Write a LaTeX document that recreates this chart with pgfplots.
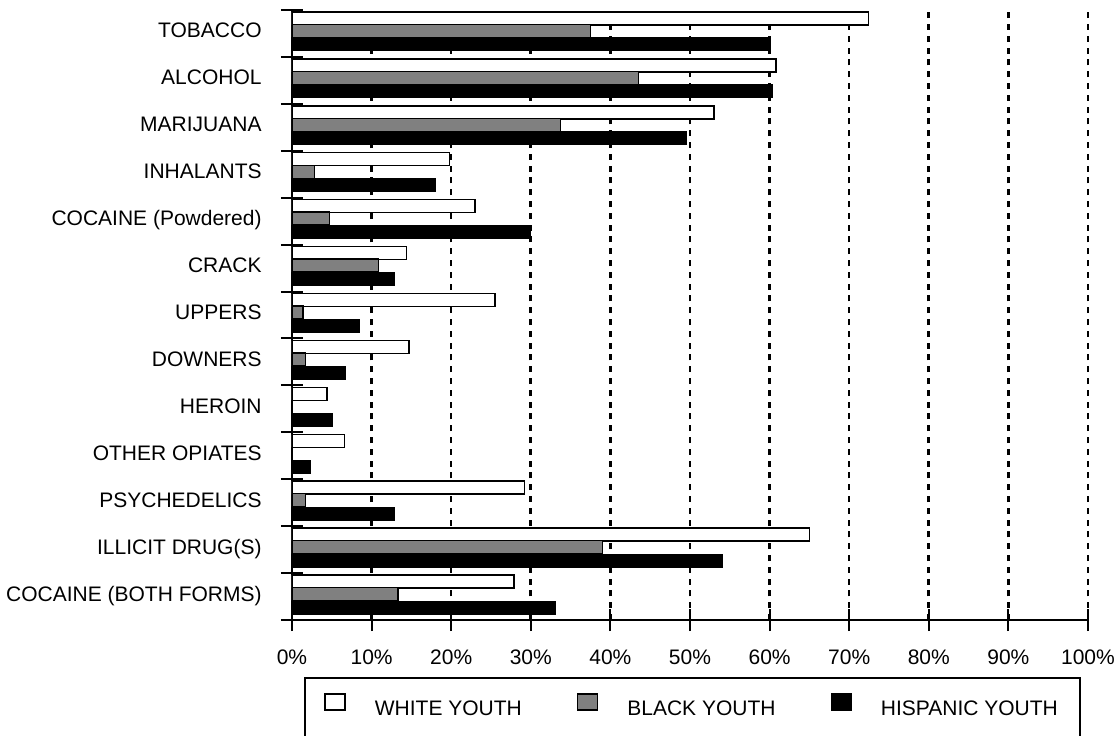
\documentclass[border=0pt]{standalone}
\usepackage{pgfplots}
\pgfplotsset{compat=1.18}
\usepackage{fontspec}
\setmainfont{Liberation Sans}
\definecolor{bargray}{RGB}{128,128,128}
\begin{document}
\begin{tikzpicture}
\begin{axis}[
  name=ax, at={(0,0)}, anchor=south west,
  scale only axis, width=398pt, height=305pt,
  font=\fontsize{10.5}{12}\selectfont,
  xmin=0, xmax=100, ymin=-0.5, ymax=12.5,
  axis x line*=bottom, axis y line*=left,
  axis line style={line width=1pt},
  xbar, bar width=6.5pt,
  xtick={0,10,...,100},
  xticklabels={0\%,10\%,20\%,30\%,40\%,50\%,60\%,70\%,80\%,90\%,100\%},
  xticklabel style={anchor=base, yshift=-16.75pt},
  ytick={-0.5,0.5,...,12.5},
  yticklabels={{COCAINE (BOTH FORMS)\hspace{-3.5pt}},{ILLICIT DRUG(S)},{PSYCHEDELICS},{OTHER OPIATES},{HEROIN},{DOWNERS},{UPPERS\hspace{2pt}},{CRACK\hspace{1.5pt}},{COCAINE (Powdered)\hspace{-1pt}},{INHALANTS},{MARIJUANA},{ALCOHOL\hspace{2.5pt}},{TOBACCO\hspace{1.5pt}},{}},
  yticklabel style={anchor=base east, inner sep=0pt, xshift=-9.5pt, yshift=9.48pt},
  tick align=center,
  major tick length=11pt,
  tick style={line width=1pt, black},
  xmajorgrids, ymajorgrids=false,
  grid style={black, line width=1.3pt, dash pattern=on 3pt off 2.9pt},
  legend style={at={(axis description cs:0.0402,-0.141)}, anchor=west,
    draw=none, fill=none, inner sep=0pt, legend columns=3,
    /tikz/every even column/.append style={column sep=27.5pt},
    nodes={inner sep=0pt}},
]
\addplot[bar shift=7.5pt, draw=black, line width=0.7pt, fill=white,
  legend image code/.code={\draw[draw=black, fill=white, line width=0.8pt] (0pt,-0.25pt) rectangle (10pt,7.75pt); \path (24.5pt,0pt);}]
  coordinates {(72.4,12) (60.8,11) (53.0,10) (19.8,9) (23.0,8) (14.4,7) (25.5,6) (14.7,5) (4.4,4) (6.6,3) (29.2,2) (65.0,1) (27.9,0)};
\addplot[bar shift=1.25pt, draw=black, line width=0.7pt, fill=bargray,
  legend image code/.code={\draw[draw=black, fill=bargray, line width=0.8pt] (0pt,-0.25pt) rectangle (10pt,7.75pt); \path (24.5pt,0pt);}]
  coordinates {(37.5,12) (43.5,11) (33.7,10) (2.8,9) (4.7,8) (10.9,7) (1.4,6) (1.7,5) (1.7,2) (39.0,1) (13.3,0)};
\addplot[bar shift=-5.5pt, draw=black, line width=0.5pt, fill=black,
  legend image code/.code={\draw[draw=black, fill=black, line width=0.8pt] (0pt,-0.25pt) rectangle (10pt,7.75pt); \path (24.5pt,0pt);}]
  coordinates {(60.1,12) (60.4,11) (49.5,10) (18.0,9) (29.9,8) (12.9,7) (8.5,6) (6.7,5) (5.1,4) (2.3,3) (12.9,2) (54.1,1) (33.1,0)};
\legend{WHITE YOUTH, BLACK YOUTH, HISPANIC YOUTH}
\end{axis}
\draw[line width=1pt] (6.5pt,-29pt) rectangle (394pt,-70pt);
\pgfresetboundingbox
\path[use as bounding box] (-146pt,-57.5pt) rectangle (411.5pt,310pt);
\end{tikzpicture}
\end{document}
